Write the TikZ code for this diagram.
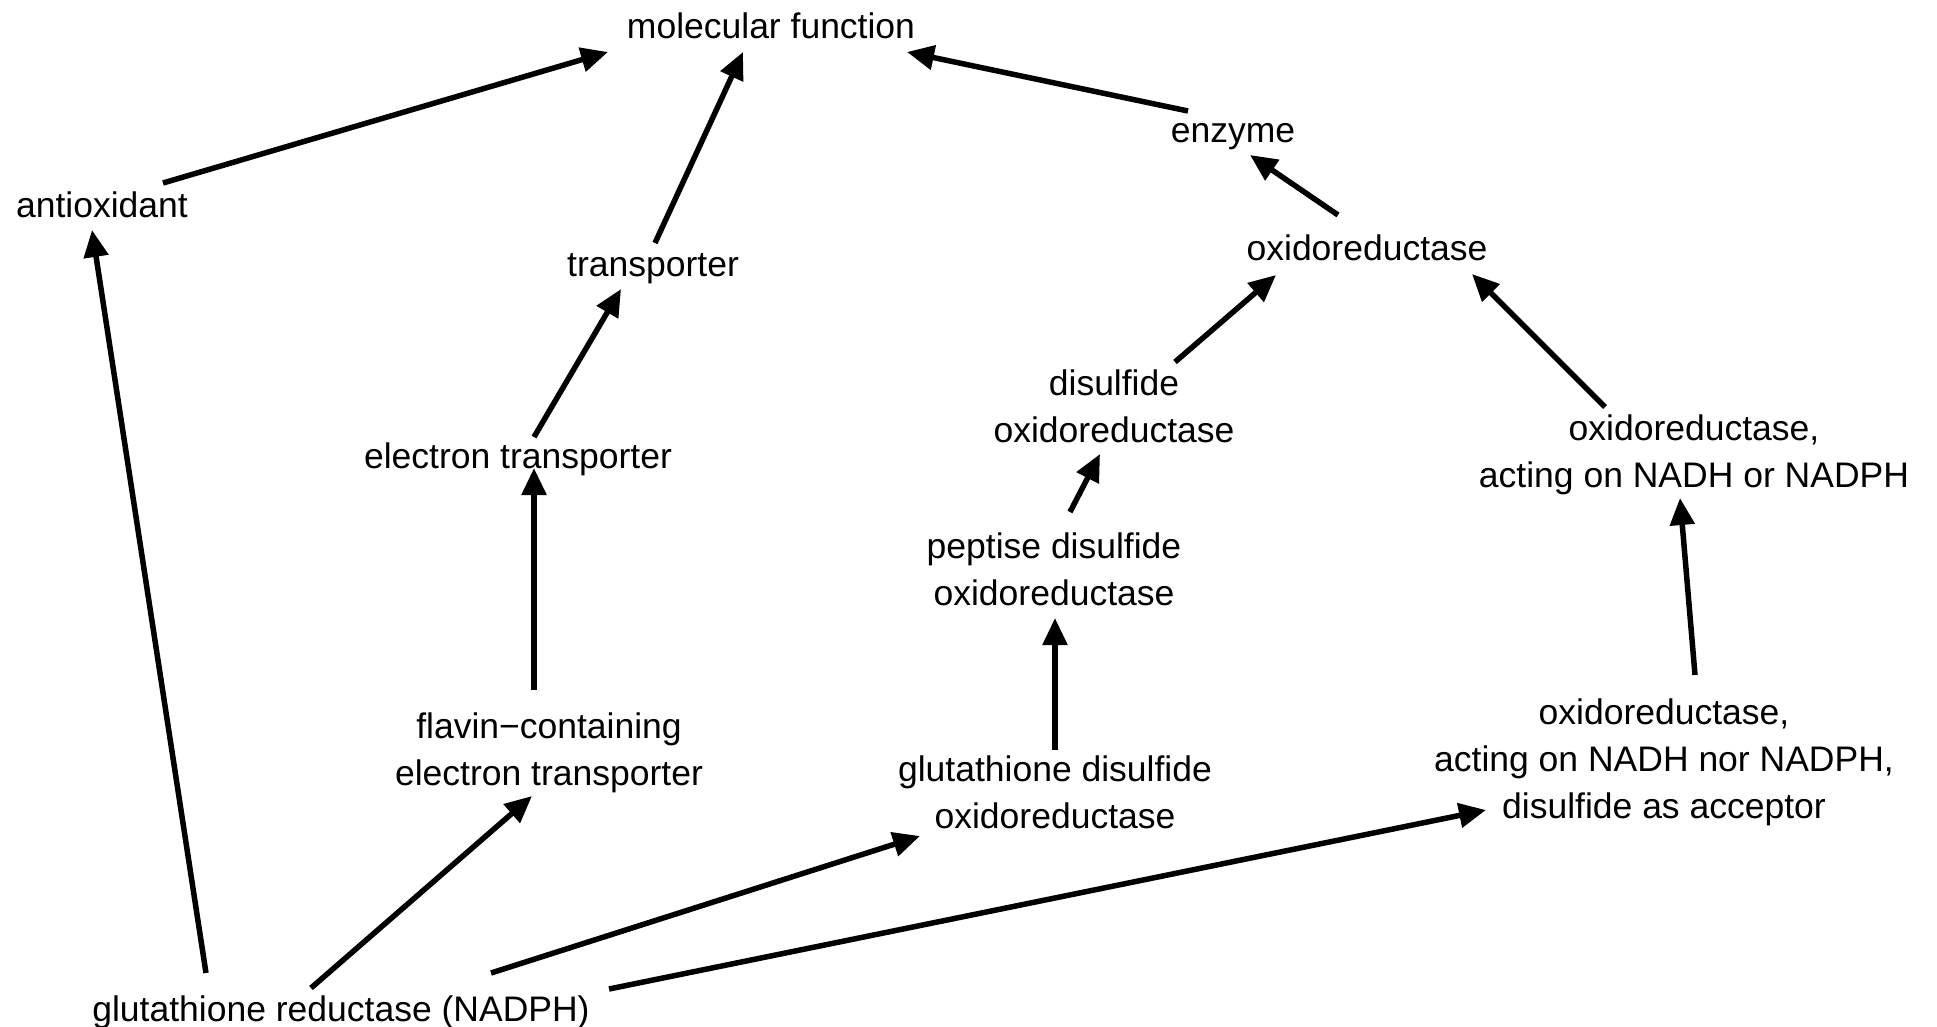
\documentclass[tikz,border=0pt]{standalone}
\usepackage{fontspec}
\setmainfont{Liberation Sans}
\usetikzlibrary{arrows.meta}
\begin{document}
\begin{tikzpicture}[x=1pt,y=-1pt,
  lbl/.style={anchor=base,inner sep=0pt,outer sep=0pt,font=\fontsize{35.5}{47}\selectfont},
  arr/.style={line width=5.5pt,-{Triangle[length=27pt,width=24pt]}}]
\useasboundingbox (0,0) rectangle (1937,1026);
\newcommand{\ml}[1]{\begin{tabular}[t]{@{}c@{}}#1\end{tabular}}
\node[lbl] (mf)    at (771,38)   {molecular function};
\node[lbl] (anti)  at (102,217)  {antioxidant};
\node[lbl] (trans) at (653,276)  {transporter};
\node[lbl] (enz)   at (1233,142) {enzyme};
\node[lbl] (oxr)   at (1367,260) {oxidoreductase};
\node[lbl] (dis)   at (1114,395) {\ml{disulfide\\oxidoreductase}};
\node[lbl] (etr)   at (518,468)  {electron transporter};
\node[lbl] (nadh)  at (1694,440) {\ml{oxidoreductase,\\acting on NADH or NADPH}};
\node[lbl] (pep)   at (1054,558) {\ml{peptise disulfide\\oxidoreductase}};
\node[lbl] (flav)  at (549,738)  {\ml{flavin−containing\\electron transporter}};
\node[lbl] (gsd)   at (1055,781) {\ml{glutathione disulfide\\oxidoreductase}};
\node[lbl] (nor)   at (1664,724) {\ml{oxidoreductase,\\acting on NADH nor NADPH,\\disulfide as acceptor}};
\node[lbl] (gr)    at (341,1021) {glutathione reductase (NADPH)};

\draw[arr] ([shift={(61,-34)}]anti.base) -- ([shift={(-163,14)}]mf.base);
\draw[arr] ([shift={(2,-33)}]trans.base) -- ([shift={(-28,14)}]mf.base);
\draw[arr] ([shift={(-45,-31)}]enz.base) -- ([shift={(136,14)}]mf.base);
\draw[arr] ([shift={(-29,-45)}]oxr.base) -- ([shift={(17,13)}]enz.base);
\draw[arr] ([shift={(61,-33)}]dis.base) -- ([shift={(-91,15)}]oxr.base);
\draw[arr] ([shift={(-89,-33)}]nadh.base) -- ([shift={(105,14)}]oxr.base);
\draw[arr] ([shift={(16,-31)}]etr.base) -- ([shift={(-32,13)}]trans.base);
\draw[arr] ([shift={(-15,-48)}]flav.base) -- ([shift={(16,0)}]etr.base);
\draw[arr] ([shift={(16,-46)}]pep.base) -- ([shift={(-14,59)}]dis.base);
\draw[arr] ([shift={(0,-31)}]gsd.base) -- ([shift={(1,60)}]pep.base);
\draw[arr] ([shift={(31,-49)}]nor.base) -- ([shift={(-14,58)}]nadh.base);
\draw[arr] ([shift={(-135,-48)}]gr.base) -- ([shift={(-10,13)}]anti.base);
\draw[arr] ([shift={(-30,-33)}]gr.base) -- ([shift={(-17,58)}]flav.base);
\draw[arr] ([shift={(150,-48)}]gr.base) -- ([shift={(-135,55)}]gsd.base);
\draw[arr] ([shift={(268,-32)}]gr.base) -- ([shift={(-178,86)}]nor.base);
\end{tikzpicture}
\end{document}
